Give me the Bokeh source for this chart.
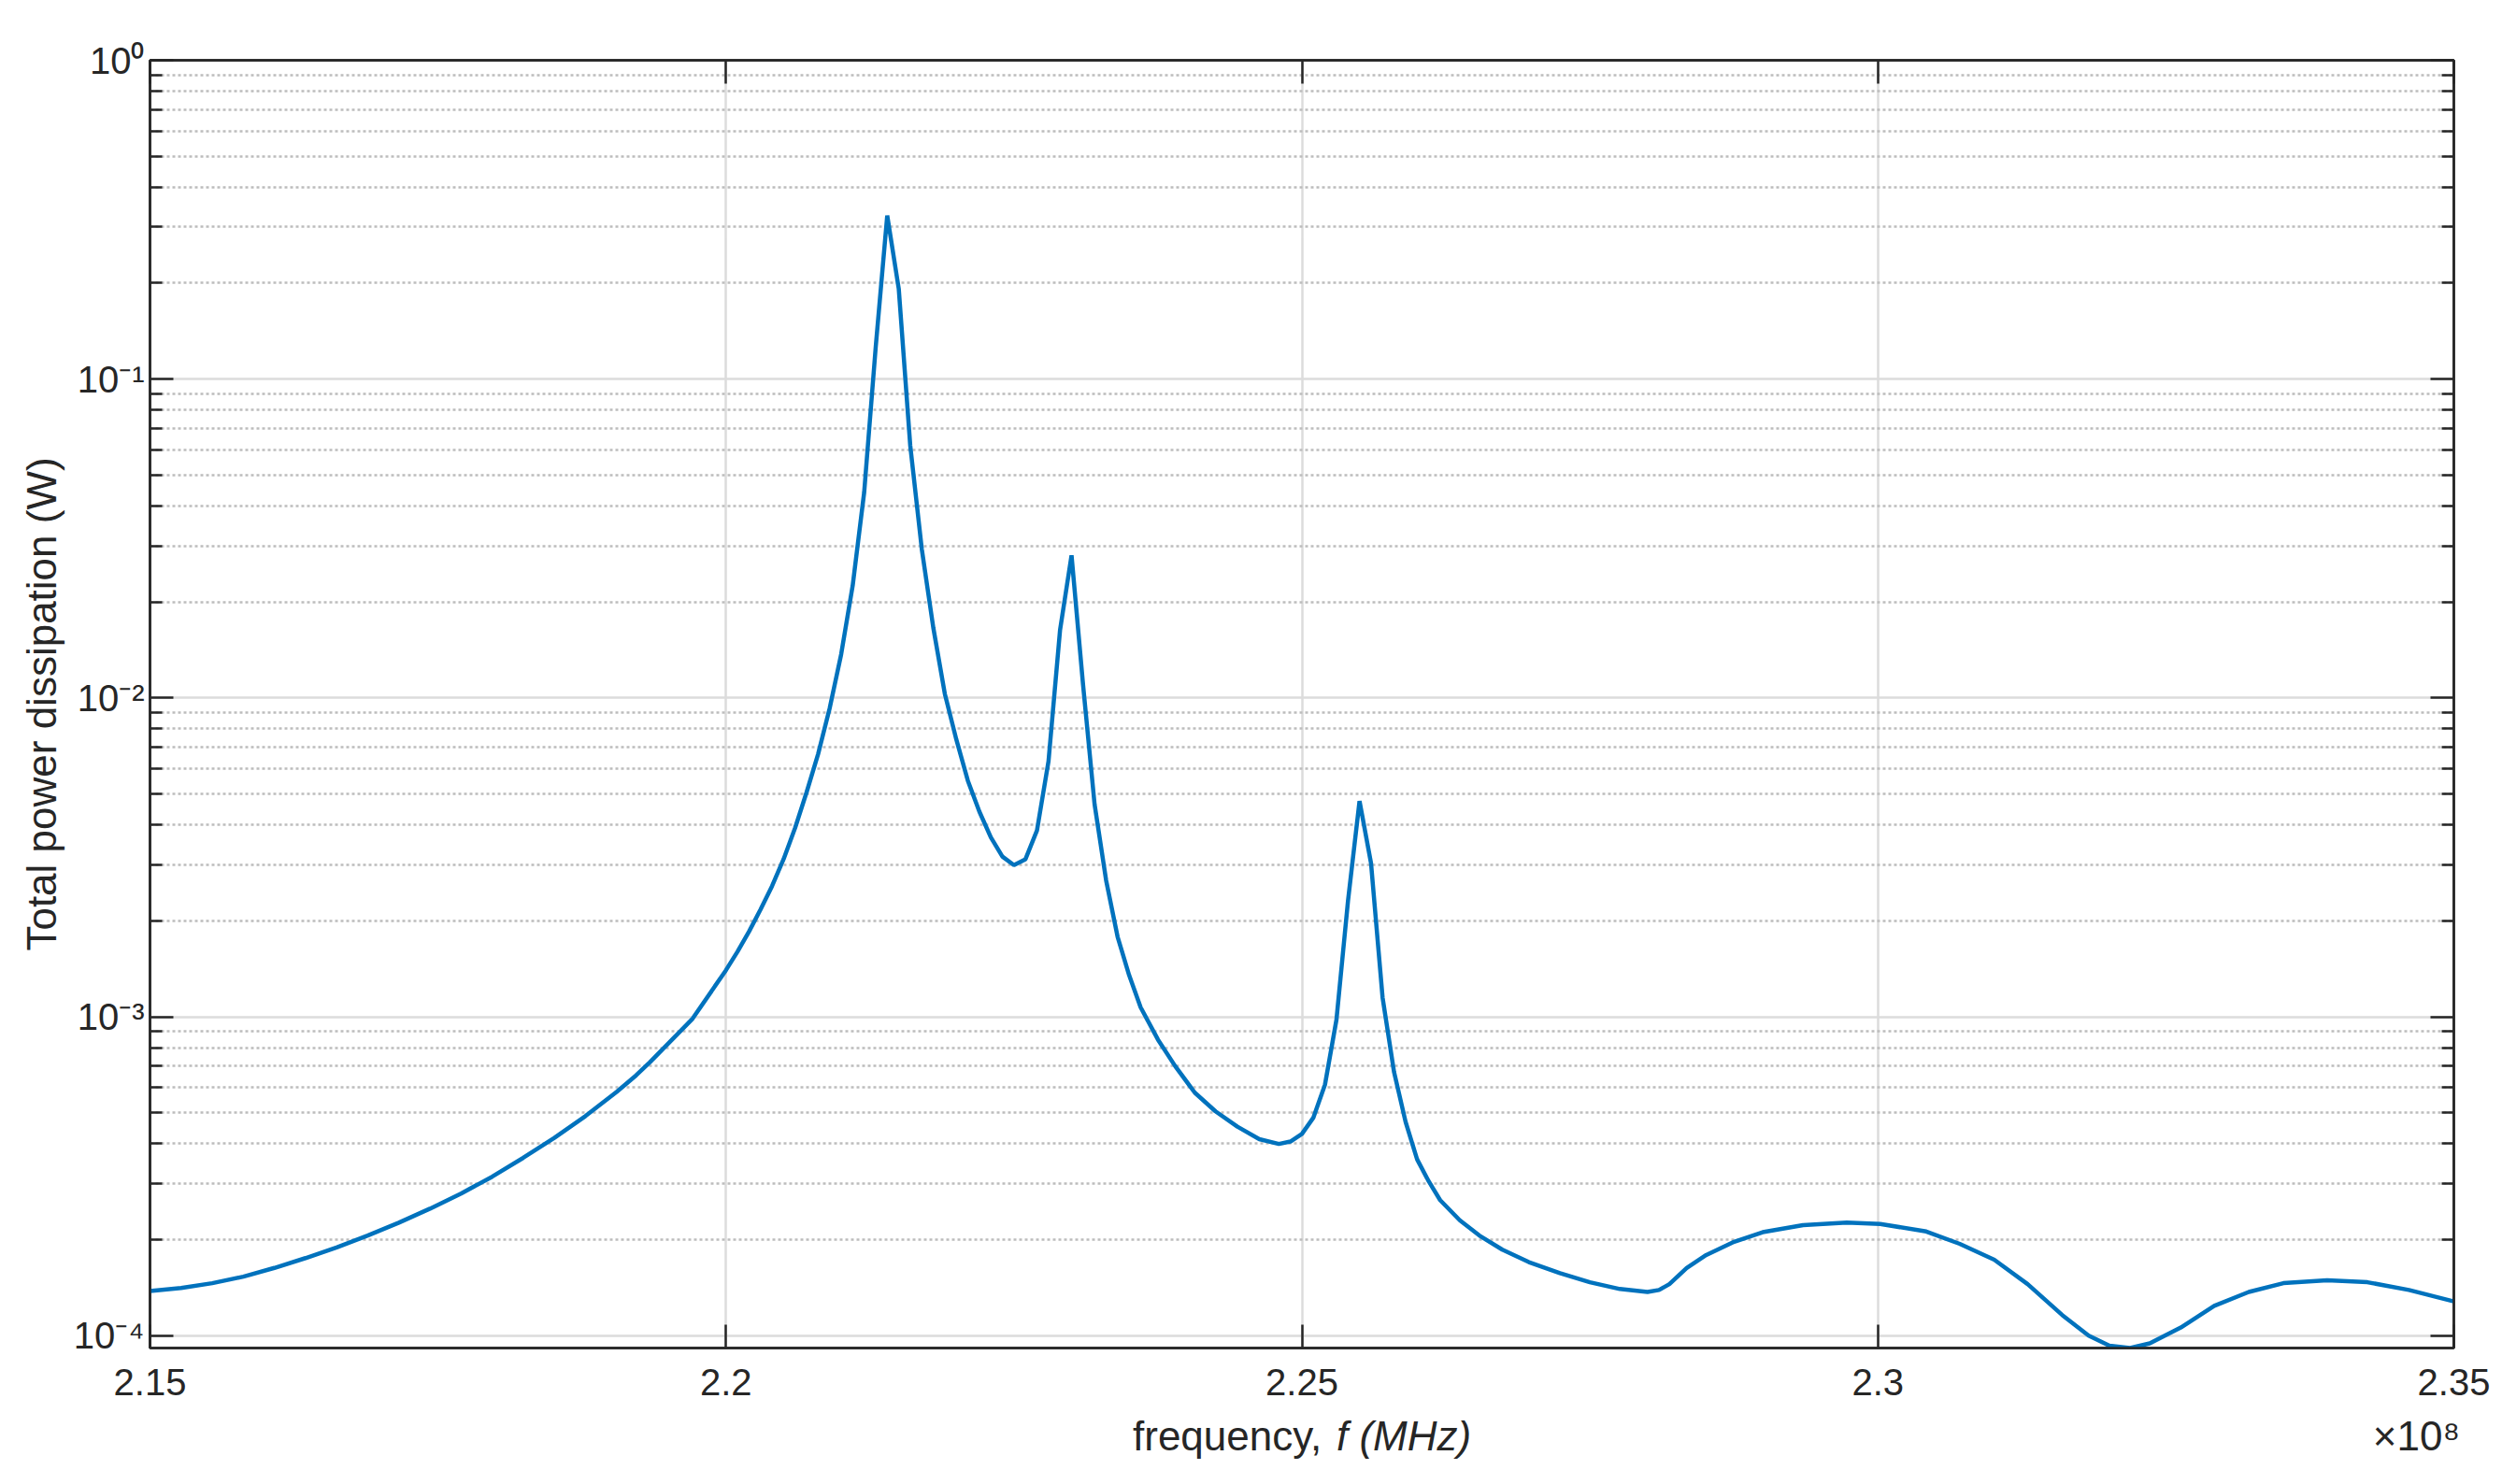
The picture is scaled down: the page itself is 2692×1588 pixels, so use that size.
from bokeh.plotting import figure
from bokeh.models import (FixedTicker, CustomJSTickFormatter, LinearAxis, LogAxis,
                          Range1d, Label)
from bokeh.embed import file_html
from bokeh.resources import INLINE

# ---------------- data ----------------
frequency_mhz = [
    215.00, 215.27, 215.54, 215.81, 216.08, 216.35, 216.62, 216.89, 217.16, 217.43,
    217.70, 217.97, 218.24, 218.51, 218.78, 219.05, 219.22, 219.34, 219.71, 220.00,
    220.10, 220.20, 220.30, 220.40, 220.50, 220.60,
    220.70, 220.80, 220.90, 221.00, 221.10, 221.20, 221.30, 221.40, 221.50, 221.60,
    221.70, 221.80, 221.90, 222.00, 222.10, 222.20, 222.30, 222.40, 222.50, 222.60,
    222.70, 222.80, 222.90, 223.00, 223.10, 223.20, 223.30, 223.40, 223.50, 223.60,
    223.75, 223.90, 224.07, 224.25, 224.44, 224.63, 224.80, 224.90, 225.00, 225.10,
    225.20, 225.30, 225.40, 225.50, 225.60, 225.70, 225.80, 225.90, 226.00, 226.10,
    226.20, 226.37, 226.54, 226.74, 226.97, 227.24, 227.50, 227.76, 228.00, 228.10,
    228.19, 228.34, 228.51, 228.74, 229.00, 229.35, 229.73, 230.02, 230.42, 230.71,
    231.01, 231.30, 231.60, 231.83, 232.01, 232.19, 232.36, 232.63, 232.92, 233.22,
    233.52, 233.90, 234.25, 234.61, 235.00,
]
power_w = [
    1.38e-4, 1.41e-4, 1.46e-4, 1.53e-4, 1.63e-4, 1.75e-4, 1.89e-4, 2.06e-4, 2.26e-4, 2.50e-4,
    2.79e-4, 3.15e-4, 3.61e-4, 4.17e-4, 4.88e-4, 5.81e-4, 6.55e-4, 7.20e-4, 9.86e-4, 1.40e-3,
    1.60e-3, 1.85e-3, 2.17e-3, 2.57e-3, 3.12e-3, 3.91e-3,
    5.06e-3, 6.67e-3, 9.27e-3, 1.37e-2, 2.25e-2, 4.42e-2, 1.26e-1, 3.26e-1, 1.92e-1, 6.18e-2,
    2.93e-2, 1.66e-2, 1.03e-2, 7.40e-3, 5.50e-3, 4.40e-3, 3.65e-3, 3.18e-3, 2.99e-3, 3.12e-3,
    3.84e-3, 6.33e-3, 1.63e-2, 2.80e-2, 1.10e-2, 4.64e-3, 2.68e-3, 1.78e-3, 1.35e-3, 1.07e-3,
    8.48e-4, 7.00e-4, 5.78e-4, 5.05e-4, 4.52e-4, 4.13e-4, 3.99e-4, 4.06e-4, 4.29e-4, 4.83e-4,
    6.12e-4, 9.80e-4, 2.31e-3, 4.75e-3, 3.03e-3, 1.15e-3, 6.70e-4, 4.68e-4, 3.57e-4, 3.05e-4,
    2.66e-4, 2.30e-4, 2.06e-4, 1.86e-4, 1.70e-4, 1.57e-4, 1.47e-4, 1.40e-4, 1.37e-4, 1.39e-4,
    1.45e-4, 1.63e-4, 1.79e-4, 1.96e-4, 2.11e-4, 2.22e-4, 2.26e-4, 2.24e-4, 2.12e-4, 1.94e-4,
    1.73e-4, 1.45e-4, 1.16e-4, 1.00e-4, 9.29e-5, 9.14e-5, 9.45e-5, 1.06e-4, 1.24e-4, 1.37e-4,
    1.46e-4, 1.49e-4, 1.47e-4, 1.39e-4, 1.28e-4,
]
x_tick_values = [2.15, 2.20, 2.25, 2.30, 2.35]
x_tick_labels = ["2.15", "2.2", "2.25", "2.3", "2.35"]
y_tick_values = [1e-4, 1e-3, 1e-2, 1e-1, 1e0]
y_tick_labels = ["10\u207b\u2074", "10\u207b\u00b3", "10\u207b\u00b2", "10\u207b\u00b9", "10\u2070"]
x_label_plain = "frequency,"
x_label_italic = "f (MHz)"
y_label = "Total power dissipation (W)"
x_multiplier = "\u00d710\u2078"

# x in units of 1e8 Hz
x_vals = [f / 100.0 for f in frequency_mhz]

FONT = "Liberation Sans"
TXT = "#262626"
X_MIN, X_MAX = 2.15, 2.35
Y_MIN, Y_MAX = 9.14e-5, 1.0
W, H = 2692, 1588
BL, BR, BT, BB = 160, 67, 64, 146

p = figure(width=W, height=H,
           x_range=Range1d(X_MIN, X_MAX), y_range=Range1d(Y_MIN, Y_MAX),
           y_axis_type="log", output_backend="svg", toolbar_location=None,
           min_border_left=BL, min_border_right=BR, min_border_top=BT,
           min_border_bottom=BB, background_fill_color="white",
           border_fill_color="white")

minor = [k * 10.0 ** d for d in range(-5, 0) for k in range(2, 10)]
xticker = FixedTicker(ticks=x_tick_values, minor_ticks=[])
yticker = FixedTicker(ticks=y_tick_values, minor_ticks=minor)

xfmt = CustomJSTickFormatter(args=dict(tvals=x_tick_values, tlabels=x_tick_labels), code="""
    for (let i = 0; i < tvals.length; i++) { if (Math.abs(tvals[i] - tick) < 1e-9) return tlabels[i]; }
    return '';
""")
yfmt = CustomJSTickFormatter(args=dict(tvals=y_tick_values, tlabels=y_tick_labels), code="""
    for (let i = 0; i < tvals.length; i++) {
        if (Math.abs(Math.log10(tvals[i]) - Math.log10(tick)) < 1e-6) return tlabels[i];
    }
    return '';
""")
blank = CustomJSTickFormatter(code="return '';")


def style(ax, minor_in):
    ax.axis_line_color = TXT
    ax.axis_line_width = 2.5
    ax.major_tick_line_color = TXT
    ax.major_tick_line_width = 2.5
    ax.major_tick_in = 25
    ax.major_tick_out = 0
    ax.minor_tick_line_color = TXT
    ax.minor_tick_line_width = 2.5
    ax.minor_tick_in = minor_in
    ax.minor_tick_out = 0
    ax.major_label_text_font = FONT
    ax.major_label_text_font_size = "40px"
    ax.major_label_text_color = TXT


xa = p.xaxis[0]
xa.ticker = xticker
xa.formatter = xfmt
style(xa, 0)
xa.major_label_standoff = 22

ya = p.yaxis[0]
ya.ticker = yticker
ya.formatter = yfmt
style(ya, 13)
ya.major_label_standoff = 6
ya.axis_label = y_label
ya.axis_label_text_font = FONT
ya.axis_label_text_font_size = "44px"
ya.axis_label_text_font_style = "normal"
ya.axis_label_text_color = TXT
ya.axis_label_standoff = 7

top = LinearAxis(ticker=xticker, formatter=blank)
style(top, 0)
top.major_label_text_font_size = "1px"
top.major_label_standoff = 0
p.add_layout(top, "above")

right = LogAxis(ticker=yticker, formatter=blank)
style(right, 13)
right.major_label_text_font_size = "1px"
right.major_label_standoff = 0
p.add_layout(right, "right")

p.xgrid.ticker = xticker
p.ygrid.ticker = yticker
for g in (p.xgrid[0], p.ygrid[0]):
    g.grid_line_color = "#dcdcdc"
    g.grid_line_width = 2.5
p.ygrid[0].minor_grid_line_color = "#bdbdbd"
p.ygrid[0].minor_grid_line_width = 2.5
p.ygrid[0].minor_grid_line_dash = "3 3"

p.outline_line_color = TXT
p.outline_line_width = 2.5

p.line(x_vals, power_w, line_color="#0072BD", line_width=4.5)

# x axis title ("frequency," upright, "f (MHz)" italic) and the x10^8 multiplier.
# Side-panel labels are not clipped to the frame; one sits in each of the
# below / above panels so that neither panel grows past its border.
XC = (X_MIN + X_MAX) / 2
GAP = "\u00a0" * 92
p.add_layout(Label(x=XC, y=Y_MIN, x_units="data", y_units="data",
                   text=x_label_plain + GAP + x_multiplier, text_align="left",
                   text_baseline="alphabetic", x_offset=-181, y_offset=-94,
                   text_font=FONT, text_font_size="44px", text_color=TXT), "below")
p.add_layout(Label(x=XC, y=Y_MIN, x_units="data", y_units="data",
                   text=x_label_italic, text_align="left", text_baseline="alphabetic",
                   x_offset=37, y_offset=-94, text_font=FONT, text_font_size="44px",
                   text_font_style="italic", text_color=TXT), "above")

open("out.html", "w").write(file_html(p, INLINE))
